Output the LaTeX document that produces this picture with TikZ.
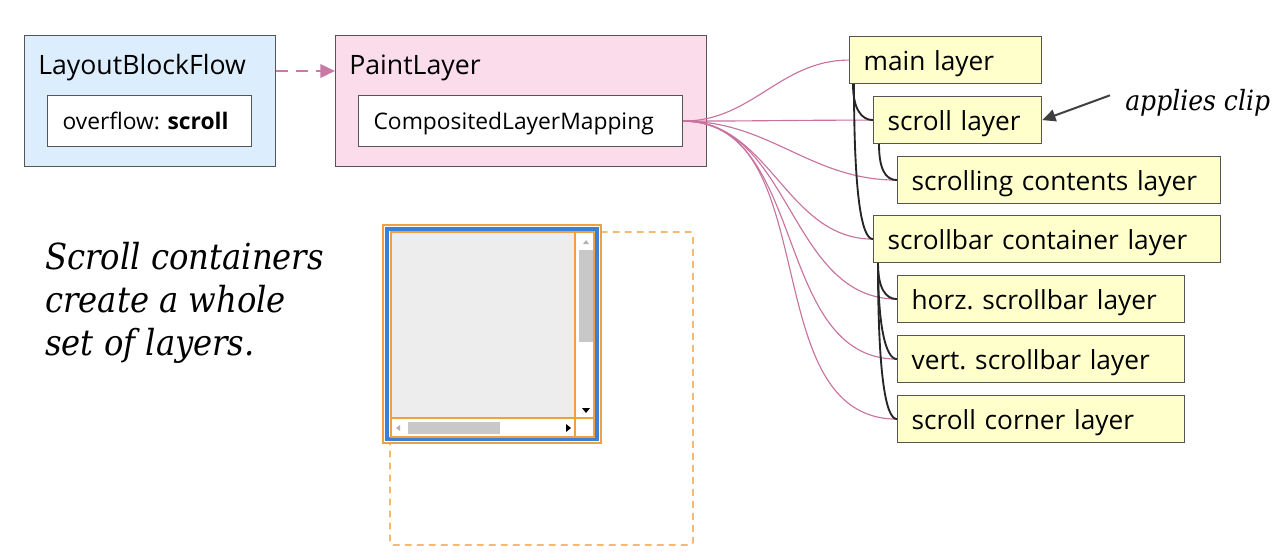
\documentclass[tikz,border=0pt]{standalone}
\usepackage{fontspec}
\setsansfont{Open Sans}
\newfontfamily\serifc{DejaVu Serif Condensed}
\usetikzlibrary{calc,arrows.meta}
\definecolor{lbblue}{HTML}{DCEEFD}
\definecolor{plpink}{HTML}{FADCEA}
\definecolor{layyel}{HTML}{FFFFCC}
\definecolor{bord}{HTML}{555555}
\definecolor{conpink}{HTML}{C8739F}
\definecolor{arrpink}{HTML}{C87AA4}
\definecolor{orng}{HTML}{F0A040}
\definecolor{orngl}{HTML}{F5B96F}
\definecolor{sbblue}{HTML}{3A80D6}
\definecolor{areagray}{HTML}{EDEDED}
\definecolor{thumbgray}{HTML}{C8C8C8}
\frenchspacing
\tikzset{
  outerbox/.style={draw=bord, line width=0.9pt, anchor=north west, minimum height=98.25pt, inner sep=0pt},
  titletext/.style={font=\sffamily\fontsize{20}{24}\selectfont, inner sep=0pt, anchor=base west},
  innerbox/.style={draw=bord, line width=0.9pt, fill=white, anchor=north west, minimum height=38.25pt, inner xsep=11.25pt, inner ysep=0pt, text depth=0pt, align=left, font=\sffamily\fontsize{17.1}{20}\selectfont},
  layer/.style={draw=bord, line width=0.9pt, fill=layyel, anchor=north west, minimum height=35.25pt, inner xsep=10.5pt, inner ysep=0pt, text depth=0pt, align=left, font=\sffamily\fontsize{19.7}{22}\selectfont},
  pinkline/.style={draw=conpink, line width=0.85pt},
  tree/.style={draw=black!85, line width=1.4pt},
  shorttree/.style={tree, out=-90, in=180, out distance=18pt, in distance=9pt},
  longtree/.style={tree, out=-90, in=180, out distance=80pt, in distance=9pt},
  orngline/.style={draw=orng, line width=0.8pt},
}
\begin{document}
\begin{tikzpicture}[x=0.75pt,y=-0.75pt]
\useasboundingbox[fill=white] (0,0) rectangle (1276,556);

% left boxes
\node[outerbox, fill=lbblue, minimum width=188.25pt] (lbf) at (24,35) {};
\node[titletext] (lbft) at (38,75) {LayoutBlockFlow};
\node[innerbox, text width=130.5pt] (ovf) at (47,95) {overflow: \textbf{scroll}};

\node[outerbox, fill=plpink, minimum width=278.25pt] (pl) at (335,35) {};
\node[titletext] (plt) at (349,75) {PaintLayer};
\node[innerbox, text width=220.5pt] (cm) at (358,95) {CompositedLayerMapping};

\draw[draw=arrpink, line width=1.9pt, dash pattern=on 9pt off 6pt, -{Triangle[length=11pt,width=10pt]}]
  ($(lbf.north east)+(0,36)$) -- ($(pl.north west)+(0,36)$);

% layers
\node[layer, text width=123pt] (main) at (849,36) {main layer};
\node[layer, text width=105pt] (scroll) at (873,96) {scroll layer};
\node[layer, text width=221.25pt] (sc) at (897,156) {scrolling contents layer};
\node[layer, text width=239.25pt] (sbc) at (873,215) {scrollbar container layer};
\node[layer, text width=194.25pt] (horz) at (897,275) {horz. scrollbar layer};
\node[layer, text width=194.25pt] (vert) at (897,335) {vert. scrollbar layer};
\node[layer, text width=194.25pt] (corner) at (897,395) {scroll corner layer};

% pink connectors
\foreach \t in {main,scroll,sc,sbc,horz,vert,corner}
  \draw[pinkline] (cm.east) to[out=0,in=180] (\t.west);

% tree
\draw[shorttree] ($(main.south west)+(4,0)$) to (scroll.west);
\draw[longtree] ($(main.south west)+(5,0)$) to (sbc.west);
\draw[shorttree] ($(scroll.south west)+(6,0)$) to (sc.west);
\draw[shorttree] ($(sbc.south west)+(5,0)$) to (horz.west);
\draw[longtree, out distance=45pt] ($(sbc.south west)+(5,0)$) to (vert.west);
\draw[longtree] ($(sbc.south west)+(5,0)$) to (corner.west);

% applies clip
\node[font=\serifc\itshape\fontsize{20.9}{24}\selectfont, anchor=base west, inner sep=0pt] (clip) at (1125,111) {applies clip};
\draw[draw=black!75, line width=1.5pt, -{Triangle[length=10pt,width=9pt]}] ($(clip.west)+(-15,-8)$) -- (scroll.east);

% italic text
\node[font=\serifc\itshape\fontsize{26.9}{32.25}\selectfont, anchor=north west, align=left, inner sep=0pt] (note) at (45,242)
  {Scroll containers\\create a whole\\set of layers.};

% scroll illustration
\draw[draw=orngl, line width=1.3pt, dash pattern=on 5pt off 4pt, rounded corners=2pt] (390,232) rectangle (693,545);
\fill[white] (383,225) rectangle (601,443);
\draw[orngline] (383,225) rectangle (601,443);
\draw[draw=sbblue, line width=3pt] (387,229) rectangle (597,439);
\fill[areagray] (391,232) rectangle (575,418);
\fill[white] (575,232) rectangle (594,437);
\fill[white] (391,418) rectangle (594,437);
\fill[thumbgray] (579,250) rectangle (593,342);
\fill[thumbgray] (408,422) rectangle (500,434);
\draw[orngline] (391,232) rectangle (594,437);
\draw[orngline] (575,232) -- (575,437);
\draw[orngline] (391,418) -- (594,418);
\fill[gray!60] (583,244) -- (589,244) -- (586,240) -- cycle;
\fill[black] (582,408) -- (590,408) -- (586,413) -- cycle;
\fill[gray!60] (400,425) -- (400,431) -- (396,428) -- cycle;
\fill[black] (566,424) -- (566,432) -- (571,428) -- cycle;
\end{tikzpicture}
\end{document}
